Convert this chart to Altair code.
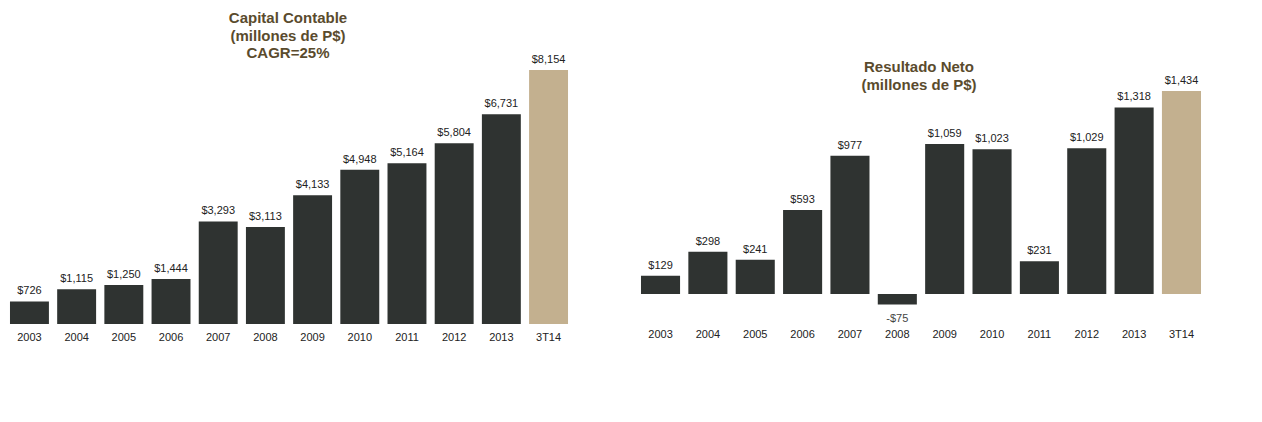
import altair as alt
import pandas as pd

categories = ["2003", "2004", "2005", "2006", "2007", "2008", "2009", "2010",
              "2011", "2012", "2013", "3T14"]
capital = [726, 1115, 1250, 1444, 3293, 3113, 4133, 4948, 5164, 5804, 6731, 8154]
resultado = [129, 298, 241, 593, 977, -75, 1059, 1023, 231, 1029, 1318, 1434]
highlight = ["no"] * 11 + ["yes"]

title_left = ["Capital Contable", "(millones de P$)", "CAGR=25%"]
title_right = ["Resultado Neto", "(millones de P$)"]

DARK = "#2f3331"
TAN = "#c3b08f"
TITLE_COLOR = "#5a4b2d"
FONT = "Liberation Sans"


def fmt(v):
    return ("-$" if v < 0 else "$") + f"{abs(v):,}"


def panel(values, domain, width, label_pad, title_lines, title_y0):
    df = pd.DataFrame({
        "cat": categories,
        "val": values,
        "hl": highlight,
        "lab": [fmt(v) for v in values],
    })
    x = alt.X("cat:N", sort=categories,
              scale=alt.Scale(paddingInner=0.175, paddingOuter=0.042),
              axis=alt.Axis(title=None, domain=False, ticks=False,
                            labelAngle=0, labelFont=FONT, labelFontSize=11,
                            labelColor="#222222", labelPadding=label_pad,
                            labelBaseline="top"))
    y = alt.Y("val:Q", scale=alt.Scale(domain=domain, nice=False, zero=True),
              axis=None)
    base = alt.Chart(df).encode(x=x)
    bars = base.mark_bar().encode(
        y=y,
        color=alt.Color("hl:N", scale=alt.Scale(domain=["no", "yes"],
                                                 range=[DARK, TAN]),
                        legend=None),
    )
    pos = base.transform_filter("datum.val >= 0").mark_text(
        baseline="bottom", dy=-5, font=FONT, fontSize=11, color="#222222"
    ).encode(y=y, text="lab:N")
    neg = base.transform_filter("datum.val < 0").mark_text(
        baseline="top", dy=8, font=FONT, fontSize=11, color="#444444"
    ).encode(y=y, text="lab:N")
    tdf = pd.DataFrame({"t": title_lines, "i": list(range(len(title_lines)))})
    titles = alt.Chart(tdf).mark_text(
        font=FONT, fontSize=15, fontWeight="bold", color=TITLE_COLOR,
        baseline="middle", align="center"
    ).encode(
        text="t:N",
        x=alt.value(280),
        y=alt.Y("i:Q", scale=alt.Scale(domain=[0, 1],
                                        range=[title_y0, title_y0 + 17.5]),
                axis=None),
    )
    return alt.layer(bars, pos, neg, titles).resolve_scale(y="independent").properties(
        width=width, height=311)


left = panel(capital, [0, 9984], 562, 7, title_left, 5)
right = panel(resultado, [-212, 1985], 564, 4, title_right, 54)

chart = alt.hconcat(left, right, spacing=69).properties(
    padding={"left": 0, "top": 3, "right": 0, "bottom": 0},
    background="white",
).configure_view(stroke="transparent", strokeWidth=0)

chart.save("out.html", embed_options={"renderer": "svg", "actions": False})
